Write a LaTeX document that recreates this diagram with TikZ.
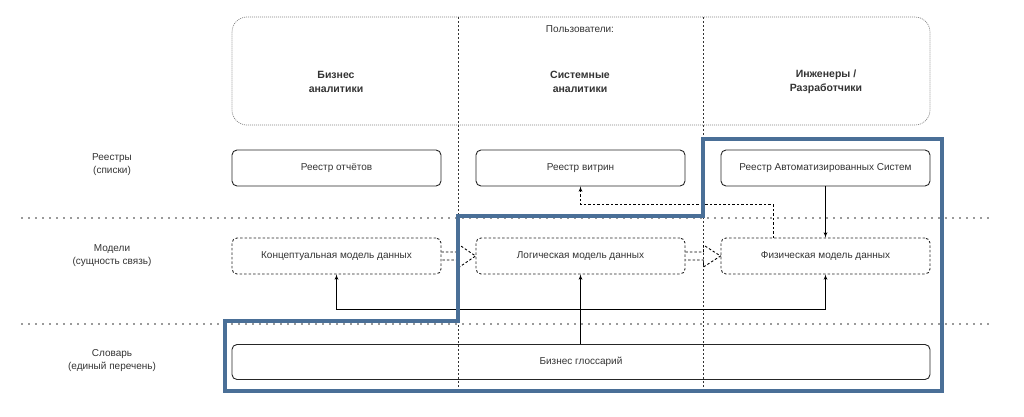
\documentclass[tikz,border=0pt]{standalone}
\usepackage{fontspec}
\setmainfont{Liberation Sans}
\usetikzlibrary{arrows,calc}
\definecolor{frameblue}{HTML}{4A6F97}
\definecolor{txtgray}{HTML}{333333}
\tikzstyle{block} = [rectangle, draw=black!85, line width=0.9pt, rounded corners=5pt, inner sep=0pt,
    minimum width=209pt, minimum height=36pt, text=txtgray,
    font=\fontsize{10}{12}\selectfont]
\tikzstyle{model} = [block, dash pattern=on 2.5pt off 2pt]
\tikzstyle{caption} = [align=center, text=txtgray, font=\fontsize{10}{13}\selectfont]
\tikzstyle{head} = [caption, font=\fontsize{10.5}{14.5}\selectfont\bfseries]
\tikzstyle{line} = [draw, line width=0.8pt, -latex']
\tikzstyle{rowsep} = [line width=1.8pt, line cap=round, dash pattern=on 0pt off 7pt, txtgray]
\tikzstyle{colsep} = [line width=0.7pt, dash pattern=on 2pt off 2pt, txtgray]
\newcommand{\hollowarrow}[2]{%
  \draw[line width=0.9pt, dash pattern=on 2.5pt off 2pt] ($(#1.east)+(0,-4)$) -- ($(#1.east)+(18,-4)$)
    -- ($(#1.east)+(18,-11)$) -- (#2.west) -- ($(#1.east)+(18,11)$)
    -- ($(#1.east)+(18,4)$) -- ($(#1.east)+(0,4)$);}

\begin{document}
\begin{tikzpicture}[x=1pt, y=-1pt]
	\useasboundingbox (0,0) rectangle (1024,416);

		% users
		\node [draw, gray, line width=0.7pt, rounded corners=15pt, dash pattern=on 1pt off 1pt,
		       minimum width=698pt, minimum height=108pt] (users) at (581,71) {};
		\node [caption] (usertitle) at (580,29) {Пользователи:};
		\node [head] (busan) at (336,82) {Бизнес\\аналитики};
		\node [head] (sysan) at (580,82) {Системные\\аналитики};
		\node [head] (eng) at (826,82) {Инженеры /\\Разработчики};

		\draw [colsep] (458,17) -- (458,389);
		\draw [colsep] (703,17) -- (703,389);
		\draw [rowsep] (22,218) -- (995,218);
		\draw [rowsep] (22,324) -- (995,324);

		% levels
		\node [caption] (lvlreg) at (112,165) {Реестры\\(списки)};
		\node [caption] (lvlmod) at (112,256) {Модели\\(сущность связь)};
		\node [caption] (lvldict) at (112,361) {Словарь\\(единый перечень)};

		\node [block] (regrep) at (336.5,168) {Реестр отчётов};
		\node [block] (regvit) at (580.5,168) {Реестр витрин};
		\node [block] (regas) at (825.5,168) {Реестр Автоматизированных Систем};

		\node [model] (concept) at (336.5,256) {Концептуальная модель данных};
		\node [model] (logic) at (580.5,256) {Логическая модель данных};
		\node [model] (phys) at (825.5,256) {Физическая модель данных};

		\node [block, minimum width=698pt, minimum height=35pt] (gloss) at (581,362) {Бизнес глоссарий};

		\hollowarrow{concept}{logic}
		\hollowarrow{logic}{phys}

		\path [line] (regas) -- (phys);
		\coordinate (physout) at (773,238);
		\path [line, dash pattern=on 2.5pt off 2pt] (physout) |- ($(regvit.south)+(0,18)$) -- (regvit.south);
		\path [line] (gloss.north -| logic) -- (logic.south);
		\coordinate (split) at (580.5,309);
		\path [line] (split) -| (concept.south);
		\path [line] (split) -| (phys.south);

		\draw [frameblue, line width=4pt] (225,321) -- (458,321) -- (458,216) -- (703,216)
		    -- (703,139) -- (942,139) -- (942,391) -- (225,391) -- cycle;
	\end{tikzpicture}
\end{document}
